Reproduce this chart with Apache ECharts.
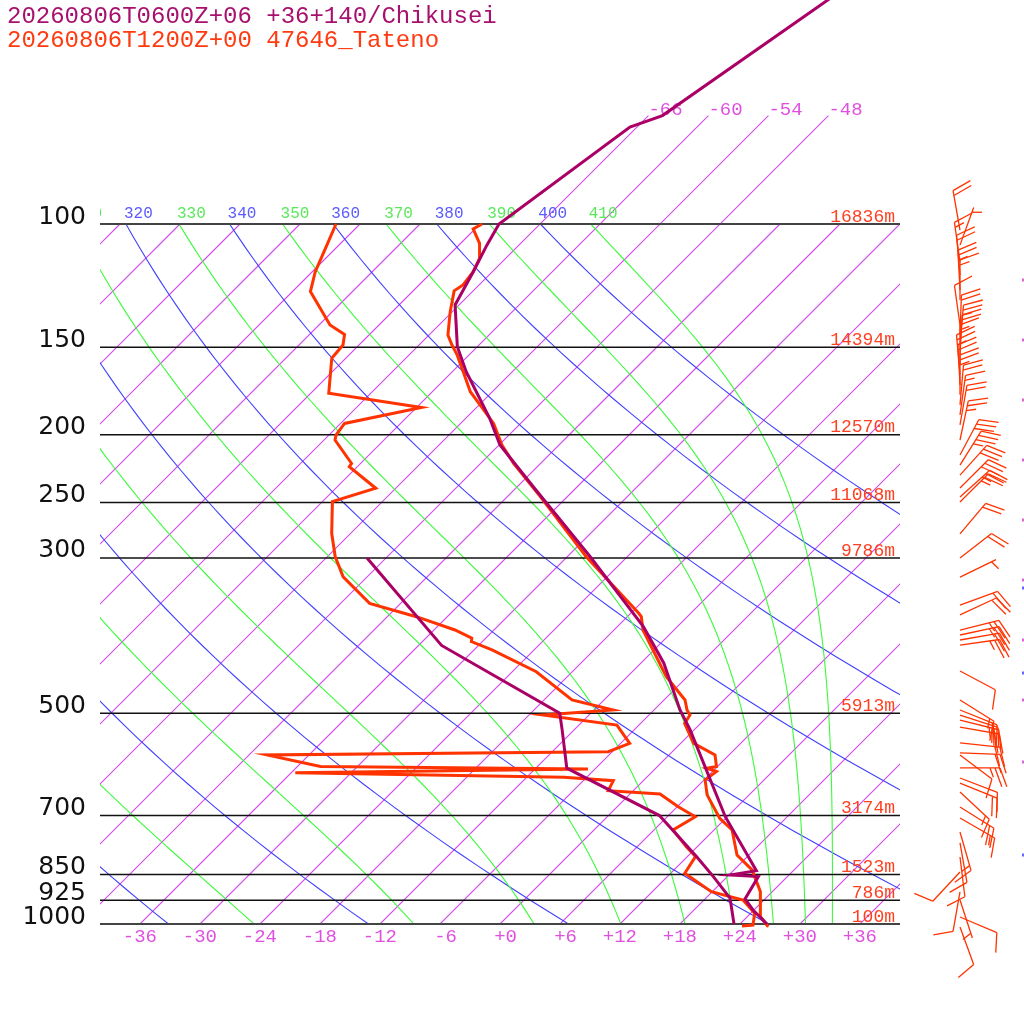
<!DOCTYPE html>
<html lang="en">
<head>
<meta charset="UTF-8">
<title>Skew-T Chikusei / Tateno</title>
<style>
  html, body { margin: 0; padding: 0; background: #fff; }
  #main { width: 1024px; height: 1024px; }
</style>
</head>
<body>
<div id="main"></div>
<script src="https://cdn.jsdelivr.net/npm/echarts@6.0.0/dist/echarts.min.js"></script>
<script>
// ---- diagram furniture ----
var levels  = [100, 150, 200, 250, 300, 500, 700, 850, 925, 1000];
var heights = ['16836m', '14394m', '12570m', '11068m', '9786m', '5913m', '3174m', '1523m', '786m', '100m'];
var isoTemps = [-108, -102, -96, -90, -84, -78, -72, -66, -60, -54, -48, -42, -36, -30, -24, -18, -12, -6, 0, 6, 12, 18, 24, 30, 36];
var isoBottomLabels = [-36, -30, -24, -18, -12, -6, 0, 6, 12, 18, 24, 30, 36];
var isoTopLabels = [-66, -60, -54, -48];
var dryTheta = [240, 260, 280, 300, 320, 340, 360, 380, 400];
var moistThetaE = [230, 250, 270, 290, 310, 330, 350, 370, 390, 410];

// ---- Chikusei forecast (hPa, degC) ----
var chikP  = [46, 70, 72.7, 100, 107.2, 117, 130.5, 149.7, 162.6, 189.5, 206.9, 237.3, 298.8, 376, 424, 494.6, 528, 589.5, 702.6, 839, 851, 855.7, 921, 955, 1000];
var chikT  = [-59.1, -64.6, -66.7, -70.1, -69.2, -67.9, -66.4, -62.0, -58.6, -51.6, -47.9, -40.4, -27.7, -15.4, -9.7, -3.4, -0.4, 4.3, 11.8, 20.3, 18.1, 21.1, 22.0, 23.9, 26.7];
var chikTdP = [300, 400, 500, 528, 599, 700, 801, 855.7, 918, 1000];
var chikTd  = [-49.9, -33.7, -15.1, -13.2, -8.9, 5.1, 12.9, 16.6, 20.4, 23.4];

// ---- Tateno observation (hPa, degC) ----
var tateP = [100, 101.6, 106.6, 112, 117, 122.2, 124.6, 133.5, 144.1, 148.9, 153.8, 162.6, 173.6, 182.4, 192.7, 206.9, 219.8, 245.2, 298.8, 359.8, 363.9, 380.2, 443.3, 478.6, 494.6, 502.9, 516.9, 551.9, 573.5, 595.7, 598.9, 605.6, 622.4, 654, 706.3, 733.9, 796.9, 837, 899, 976, 1009];
var tateT = [-71.8, -72.2, -70.1, -68.6, -67.9, -67.6, -67.9, -66.2, -64.1, -62.7, -61.2, -58.9, -56.2, -53.6, -50.7, -47.7, -44.7, -38.7, -28.1, -17.2, -16.6, -15.1, -8.1, -3.9, -2.7, -1.9, -1.6, 1.3, 4.6, 5.9, 5.1, 6.4, 6.1, 7.8, 11.4, 13.8, 16.8, 19.8, 22.8, 25.3, 27.1];
var tateTdP = [100, 107.2, 117, 124.9, 139.4, 143.8, 148.9, 155.5, 174.5, 182.9, 192.7, 200.1, 203.5, 219.8, 222.2, 238.5, 249.2, 276.6, 298.8, 319.2, 348.3, 363.9, 380.2, 390.6, 395, 406, 436.1, 478.6, 494.6, 502.9, 519.8, 551.9, 567.4, 573.5, 595.7, 600.6, 608, 617.2, 624.1, 645, 652, 680, 702.6, 733.9, 775.4, 801, 846.2, 899, 924, 965.4, 1003.3, 1006.6];
var tateTd  = [-86.4, -85.2, -83.7, -82.2, -76.9, -74.5, -73.6, -73.4, -70.2, -59.5, -65.6, -65.3, -64.9, -60.9, -60.8, -56.0, -59.0, -55.9, -53.2, -50.4, -45.1, -39.1, -33.9, -31.4, -31.1, -28.2, -21.6, -15.2, -10.1, -16.6, -8.2, -5.1, -6.4, -40.2, -33.7, -6.7, -35.6, -8.3, -3.0, -2.5, 3.0, 6.1, 8.8, 7.9, 10.9, 12.8, 13.4, 17.9, 21.9, 24.4, 25.4, 24.4];

// ---- Tateno wind barbs: pressure, staff direction (deg clockwise from up), speed (kt) ----
var barbP   = [102.0, 107.2, 113.3, 118.3, 124.3, 128.4, 139.4, 144.1, 148.9, 153.8, 158.9, 164.2, 169.8, 175.4, 181.3, 187.4, 193.6, 203.5, 213.8, 221.0, 228.4, 238.3, 245.5, 249.6, 277.2, 300.1, 319.5, 350.2, 361.8, 380.2, 386.5, 392.9, 399.5, 435.1, 478.6, 494.6, 502.9, 511.3, 523.2, 551.3, 569.6, 573.5, 598.5, 618.6, 629.0, 647.6, 680.6, 705.6, 738.8, 766.0, 802.3, 842.6, 900.0, 924.1, 977.3, 1009.9];
var barbDir = [-10, 20, -8, -5, -3, 0, -8, 2, 5, 3, 0, -5, -3, 0, 5, 8, 10, 12, 28, 32, 42, 45, 48, 45, 40, 52, 64, 70, 65, 76, 78, 80, 82, 118, 122, 112, 108, 104, 100, 96, 92, 127, 90, 111, 112, 133, 122, 120, 164, 170, 173, 223, 190, 162, 113, 160];
var barbKt  = [20, 5, 15, 20, 25, 15, 10, 20, 25, 20, 15, 25, 20, 25, 20, 15, 20, 25, 30, 35, 30, 30, 25, 25, 20, 20, 5, 20, 20, 25, 25, 20, 25, 10, 15, 20, 20, 25, 20, 20, 20, 10, 25, 10, 20, 15, 20, 15, 15, 10, 10, 10, 10, 5, 10, 10];
// edge ticks of the Chikusei column (beyond the right edge)
var edgeMagentaP = [120.2, 146.5, 178.4, 217.4, 264.8, 322.6, 392.9, 478.6, 586.8];
var edgeBlueP = [331, 438, 797.2];

var BARB_X = 46;      // barb column, in skewed-temperature units
var EDGE_X = 52.3;
var P_TOP = 1000 * Math.pow(10, -924 / 700);

function skewX(t, p) { return t + 70 * Math.log10(1000 / p); }

function thetaE(tk, p) {
    var tc = tk - 273.15;
    var es = 6.112 * Math.exp(17.67 * tc / (tc + 243.5));
    var r = 622 * es / (p - es);
    return tk * Math.pow(1000 / p, 0.2854 * (1 - 0.00028 * r)) *
        Math.exp((3.376 / tk - 0.00254) * r * (1 + 0.00081 * r));
}
function moistT(te, p) {
    var lo = 150, hi = 330;
    for (var i = 0; i < 50; i++) {
        var mid = (lo + hi) / 2;
        if (thetaE(mid, p) > te) hi = mid; else lo = mid;
    }
    return (lo + hi) / 2 - 273.15;
}

var curveP = [];
for (var k = 0; k <= 60; k++) curveP.push(1000 * Math.pow(10, -k / 60));

var isoLines = isoTemps.map(function (t) {
    var top = (t >= -66 && t <= -48) ? 70 : 100;
    return [[skewX(t, 1000), 1000], [skewX(t, top), top]];
});
var curves = [];
dryTheta.forEach(function (th) {
    curves.push({ pts: curveP.map(function (p) { return [skewX(th * Math.pow(p / 1000, 0.2857) - 273.15, p), p]; }), color: 'rgb(64,64,255)' });
});
moistThetaE.forEach(function (te) {
    curves.push({ pts: curveP.map(function (p) { return [skewX(moistT(te, p), p), p]; }), color: 'rgb(60,250,60)' });
});

var thetaLabels = [];
dryTheta.forEach(function (th) { thetaLabels.push({ v: th, t: th * Math.pow(0.1, 0.2857) - 273.15, c: '#5a5aff' }); });
moistThetaE.forEach(function (te) { thetaLabels.push({ v: te, t: moistT(te, 100), c: '#5ae85a' }); });

function pairs(ps, ts) { return ps.map(function (p, i) { return [skewX(ts[i], p), p]; }); }

var chart = echarts.init(document.getElementById('main'));
var MONO = '"Liberation Mono", "DejaVu Sans Mono", monospace';
var ISO_COLOR = 'rgb(212,72,238)';

var option = {
    animation: false,
    backgroundColor: '#fff',
    grid: { left: 100, right: 124, top: 0, bottom: 100 },
    xAxis: { type: 'value', min: -40, max: 40, show: false },
    yAxis: { type: 'log', inverse: true, min: P_TOP, max: 1000, show: false },
    graphic: [
        { type: 'text', x: 7, y: 17, style: { text: '20260806T0600Z+06 +36+140/Chikusei', fill: '#a8106e', font: '24px ' + MONO, verticalAlign: 'middle' } },
        { type: 'text', x: 7, y: 41, style: { text: '20260806T1200Z+00 47646_Tateno', fill: '#ff3a10', font: '24px ' + MONO, verticalAlign: 'middle' } }
    ],
    series: [
        {   // isotherms
            type: 'custom', clip: true, z: 1,
            itemStyle: { color: ISO_COLOR },
            data: isoLines.map(function () { return [0, 500]; }),
            renderItem: function (params, api) {
                var l = isoLines[params.dataIndex];
                var a = api.coord(l[0]), b = api.coord(l[1]);
                return { type: 'line', shape: { x1: a[0], y1: a[1], x2: b[0], y2: b[1] },
                    style: { stroke: ISO_COLOR, lineWidth: 1.1, fill: null } };
            }
        },
        {   // dry and moist adiabats
            type: 'custom', clip: true, z: 1,
            data: curves.map(function () { return [0, 500]; }),
            renderItem: function (params, api) {
                var c = curves[params.dataIndex];
                return { type: 'polyline', shape: { points: c.pts.map(function (pt) { return api.coord(pt); }) },
                    style: { stroke: c.color, lineWidth: 1.1, fill: null } };
            }
        },
        {   // theta labels along 100 hPa
            type: 'custom', clip: true, z: 2,
            data: thetaLabels.map(function () { return [0, 100]; }),
            renderItem: function (params, api) {
                var l = thetaLabels[params.dataIndex];
                var pt = api.coord([skewX(l.t, 100), 100]);
                return { type: 'text', x: pt[0] - 2, y: pt[1] - 10, style: { text: String(l.v), fill: l.c, font: '16px ' + MONO, align: 'left', verticalAlign: 'middle' } };
            }
        },
        {   // isotherm labels
            type: 'custom', clip: false, z: 2,
            data: isoBottomLabels.concat(isoTopLabels).map(function () { return [0, 1000]; }),
            renderItem: function (params, api) {
                var i = params.dataIndex, t, pt, txt;
                if (i < isoBottomLabels.length) {
                    t = isoBottomLabels[i];
                    pt = api.coord([skewX(t, 1000), 1000]);
                    txt = (t >= 0 ? '+' : '') + t;
                    return { type: 'text', x: pt[0] + 17, y: pt[1] + 13, style: { text: txt, fill: '#e050e0', font: '19px ' + MONO, align: 'right', verticalAlign: 'middle' } };
                }
                t = isoTopLabels[i - isoBottomLabels.length];
                pt = api.coord([skewX(t, 70), 70]);
                return { type: 'text', x: pt[0], y: pt[1] - 6, style: { text: String(t), fill: '#e050e0', font: '19px ' + MONO, align: 'left', verticalAlign: 'middle' } };
            }
        },
        {   // pressure levels with labels and heights
            type: 'custom', clip: false, z: 3,
            data: levels.map(function (p) { return [0, p]; }),
            renderItem: function (params, api) {
                var i = params.dataIndex, p = levels[i];
                var a = api.coord([-40, p]), b = api.coord([40, p]);
                var edge = (p === 100 || p === 1000);
                return { type: 'group', children: [
                    { type: 'line', shape: { x1: a[0], y1: a[1], x2: b[0], y2: b[1] }, style: { stroke: edge ? '#444' : '#111', lineWidth: edge ? 2 : 1.5 } },
                    { type: 'text', x: a[0] - 14, y: a[1] - 7, style: { text: String(p), fill: '#111', font: '25px "DejaVu Sans"', align: 'right', verticalAlign: 'middle' } },
                    { type: 'text', x: b[0] - 5, y: a[1] - 7, style: { text: heights[i], fill: '#ff4020', font: '18px ' + MONO, align: 'right', verticalAlign: 'middle' } }
                ] };
            }
        },
        {   // Tateno wind barbs
            type: 'custom', clip: false, z: 4,
            data: barbP.map(function (p, i) { return [BARB_X, p, barbDir[i], barbKt[i]]; }),
            renderItem: function (params, api) {
                var base = api.coord([api.value(0), api.value(1)]);
                var d = api.value(2) * Math.PI / 180, kt = api.value(3);
                var ux = Math.sin(d), uy = -Math.cos(d);
                var f = d + 70 * Math.PI / 180, fx = Math.sin(f), fy = -Math.cos(f);
                var L = 40, tip = [base[0] + ux * L, base[1] + uy * L];
                var st = { stroke: '#ff3300', lineWidth: 1.3 };
                var ch = [{ type: 'line', shape: { x1: base[0], y1: base[1], x2: tip[0], y2: tip[1] }, style: st }];
                var pos = 0, rest = kt;
                while (rest >= 10) {
                    var sx = tip[0] - ux * pos, sy = tip[1] - uy * pos;
                    ch.push({ type: 'line', shape: { x1: sx, y1: sy, x2: sx + fx * 20, y2: sy + fy * 20 }, style: st });
                    pos += 5; rest -= 10;
                }
                if (rest >= 5) {
                    if (pos === 0) pos = 5;
                    var hx = tip[0] - ux * pos, hy = tip[1] - uy * pos;
                    ch.push({ type: 'line', shape: { x1: hx, y1: hy, x2: hx + fx * 10, y2: hy + fy * 10 }, style: st });
                }
                return { type: 'group', children: ch };
            }
        },
        {
            type: 'scatter', clip: false, symbol: 'rect', symbolSize: [2, 3], z: 4,
            itemStyle: { color: '#d040d0' },
            data: edgeMagentaP.map(function (p) { return [EDGE_X, p]; })
        },
        {
            type: 'scatter', clip: false, symbol: 'rect', symbolSize: [2, 3], z: 4,
            itemStyle: { color: '#4040ff' },
            data: edgeBlueP.map(function (p) { return [EDGE_X, p]; })
        },
        {
            name: 'Tateno T', type: 'line', clip: false, z: 5, symbol: 'none',
            lineStyle: { color: '#ff3300', width: 3, join: 'miter' },
            data: pairs(tateP, tateT)
        },
        {
            name: 'Tateno Td', type: 'line', clip: false, z: 5, symbol: 'none',
            lineStyle: { color: '#ff3300', width: 3, join: 'miter' },
            data: pairs(tateTdP, tateTd)
        },
        {
            name: 'Chikusei T', type: 'line', clip: false, z: 6, symbol: 'none',
            lineStyle: { color: '#aa0066', width: 3, join: 'miter' },
            data: pairs(chikP, chikT)
        },
        {
            name: 'Chikusei Td', type: 'line', clip: false, z: 6, symbol: 'none',
            lineStyle: { color: '#aa0066', width: 3, join: 'miter' },
            data: pairs(chikTdP, chikTd)
        }
    ]
};
chart.setOption(option);
</script>
</body>
</html>
